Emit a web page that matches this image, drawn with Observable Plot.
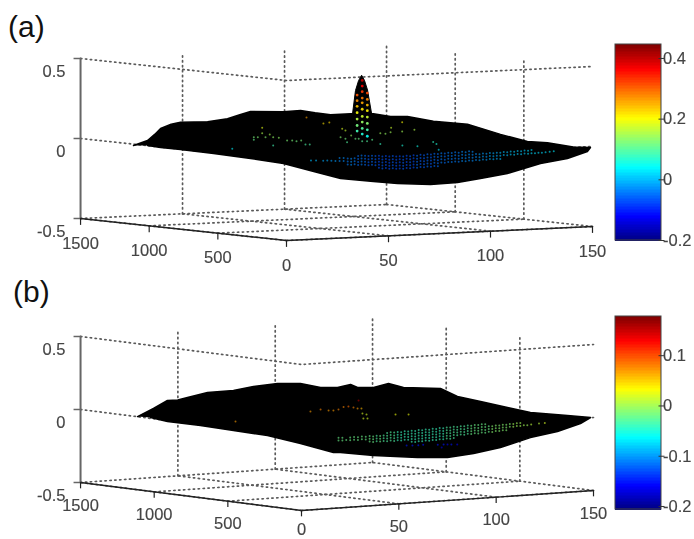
<!DOCTYPE html>
<html><head><meta charset="utf-8">
<style>
html,body{margin:0;padding:0;background:#fff;width:694px;height:539px;overflow:hidden}
#root{position:relative;width:694px;height:539px}
#root svg{display:block;filter:blur(.45px);background:transparent}
.tag{position:absolute;font-family:"Liberation Sans",Arial,sans-serif;font-size:30px;line-height:34px;color:#111}
</style>
<script src="https://cdn.jsdelivr.net/npm/d3@7"></script>
<script src="https://cdn.jsdelivr.net/npm/@observablehq/plot@0.6"></script>
</head><body><div id="root"></div>
<script>
// axis values
const xTicks = [0, 50, 100, 150];
const yTicks = [0, 500, 1000, 1500];
const zTicks = [-0.5, 0, 0.5];
const barTicksA = [-0.2, 0, 0.2, 0.4];
const barTicksB = [-0.2, -0.1, 0, 0.1];
const jetStops = [0, 0.125, 0.375, 0.625, 0.875, 1];
const jetColors = ["#00007f", "#0000ff", "#00ffff", "#ffff00", "#ff0000", "#7f0000"];

// surface silhouettes [x, y, z]
const surfaceA = [[0,1114,-.008],[0,1012,.032],[0,960,.075],[0,917,.116],[0,840,.15],[0,772,.168],[0,575,.19],[0,430,.222],[0,340,.255],[0,262,.282],[0,22,.303],[6.9,0,.308],[14,0,.29],[21.6,0,.274],[31.4,0,.274],[42.6,0,.268],[51,0,.245],[59.3,0,.24],[72,0,.203],[88.7,0,.175],[97,0,.138],[104.9,0,.102],[118.1,0,.05],[127.9,0,.037],[140.6,0,.002],[149,0,-.006],[147.5,0,-.03],[137.7,0,-.068],[124.5,0,-.091],[108.3,0,-.144],[95.1,0,-.168],[83.8,0,-.186],[70.6,0,-.191],[54.4,0,-.176],[42.6,0,-.156],[26.5,0,-.128],[15.2,0,-.084],[0,22,-.021],[0,262,-.011],[0,531,-.005],[0,772,-.002],[0,917,-.003],[0,1012,.001]];
const peakA = [[70,600,.15],[72.7,600,.19],[74.2,600,.339],[75.7,600,.40],[77.2,600,.433],[78.6,600,.40],[80.1,600,.339],[82.1,600,.19],[85,600,.15]];
const surfaceB = [[0,1113,.001],[0,1005,.07],[0,910,.137],[0,840,.15],[0,774,.175],[0,638,.227],[0,462,.263],[0,326,.308],[0,163,.349],[0,7,.369],[9.8,0,.334],[18.5,0,.325],[25.2,0,.34],[28.8,0,.316],[37,0,.309],[44.7,0,.329],[52.4,0,.295],[71.4,0,.271],[80.1,0,.208],[92,0,.162],[105.8,0,.109],[117.6,0,.064],[136.6,0,.026],[148.5,0,.001],[143.3,0,-.035],[131.5,0,-.079],[117.6,0,-.108],[102.2,0,-.162],[88.4,0,-.19],[75,0,-.205],[59.6,0,-.191],[37,0,-.157],[20,0,-.121],[16.4,0,-.118],[0,7,-.042],[0,231,-.016],[0,462,-.011],[0,686,-.005],[0,910,-.007],[0,1025,.006]];

// coloured mesh points on the surface [x, y, z]
const peakDotsA = [[77.5,600,.40],[77.5,600,.365],[77.5,600,.33],[77.5,600,.29],[77.5,600,.26],[77.5,600,.22],[77.5,600,.175],[77.5,600,.14],[77.5,600,.10],[77.5,600,.065],
[75,600,.31],[75,600,.275],[75,600,.24],[75,600,.20],[75,600,.16],[75,600,.12],[75,600,.085],
[80,600,.32],[80,600,.28],[80,600,.245],[80,600,.21],[80,600,.17],[80,600,.13],[80,600,.09],[80,600,.05]];
const scatterA = [[0,177,.188],[0,177,.154],[0,238,.124],[0,209,.126],[0,238,.108],[0,153,.132],[0,122,.151],[0,97,.137],[0,56,.137],[.3,0,.125],[2.8,0,.123],[4.9,0,.118],[7.2,0,.121],[9.3,0,.094],[11.4,0,.093],[0,97,.085],[0,395,.037],[18.1,0,.221],[21,0,.225],[9.8,0,.263],[27.3,0,.183],[28.9,0,.171],[26.5,0,.13],[28.9,0,.119],[29.7,0,.097],[31.7,0,.138],[33.8,0,.116],[35.4,0,.115],[37.1,0,.099],[39.5,0,.097],[42,0,.105],[46,0,.144],[48.5,0,.139],[51.3,0,.174],[51,0,.147],[56.7,0,.206],[56.7,0,.148],[56.8,0,.061],[46,0,.077],[62.7,0,.156],[64.2,0,.052],[71.9,0,.073],[73.5,0,.061],[74.6,0,.023]];
// [x, y, z, value]
const scatterB = [[4.6,0,.174,.07],[9.8,0,.183,.08],[13.9,0,.173,.07],[16.4,0,.17,.07],[19,0,.175,.08],[21.6,0,.189,.08],[24.1,0,.19,.09],[26.7,0,.181,.08],[28.8,0,.173,.07],[30.8,0,.171,.06],[29.3,0,.227,.16],[31.3,0,.136,.02],[33.4,0,.127,.02],[31.8,0,.101,.02],[33.9,0,.099,.02],[48.3,0,.114,.03],[55,0,.108,.03],[0,448,.052,.07],
[54,0,-.104,-.15],[57,0,-.106,-.15],[60,0,-.108,-.15],[62.5,0,-.107,-.15],[70,0,-.113,-.15],[73,0,-.115,-.15],[75,0,-.116,-.16],[77,0,-.118,-.15],[80,0,-.121,-.16],[72,0,-.134,-.17]];

// mesh-point columns along the valley [x, z, value, rows]
const bandA = [[12,-.007,.0,1],[14.5,-.009,.0,1],[18,-.012,-.01,1],[20,-.012,-.01,1],[22,-.014,-.02,1],[24,-.017,-.02,1],[26,-.018,-.03,2],[28,-.02,-.03,2],[30,-.024,-.04,3],[31.7,-.026,-.03,3],[33.4,-.024,-.04,3],[35.1,-.03,-.05,4],[36.8,-.028,-.04,4],[38.5,-.03,-.05,4],[40.2,-.034,-.06,4],[41.9,-.032,-.05,4],[43.6,-.036,-.06,4],[45.3,-.034,-.07,5],[47,-.04,-.06,5],[48.7,-.038,-.07,5],[50.4,-.043,-.07,5],[52.1,-.041,-.06,5],[53.8,-.045,-.07,5],[55.5,-.044,-.07,5],[57.2,-.047,-.06,5],[58.9,-.043,-.07,5],[60.6,-.046,-.06,5],[62.3,-.042,-.07,5],[64,-.045,-.05,5],[65.7,-.041,-.06,5],[67.4,-.044,-.06,5],[69.1,-.04,-.05,5],[70.8,-.042,-.06,5],[72.5,-.038,-.05,5],[74.2,-.041,-.05,5],[75.9,-.037,-.04,4],[77.6,-.04,-.05,4],[79.3,-.036,-.04,4],[81,-.038,-.04,4],[82.7,-.035,-.04,4],[84.4,-.038,-.04,4],[86.1,-.034,-.03,4],[87.8,-.037,-.03,4],[89.5,-.033,-.03,4],[91.2,-.036,-.03,4],[92.9,-.032,-.03,3],[94.6,-.035,-.02,3],[96.3,-.031,-.02,3],[98,-.034,-.02,3],[99.7,-.03,-.01,3],[101.4,-.033,-.01,3],[103.1,-.03,-.01,3],[104.8,-.032,0,3],[106.5,-.028,0,2],[108.2,-.03,0,2],[109.9,-.027,.01,2],[111.6,-.029,.01,2],[113.3,-.026,.01,2],[115,-.028,.01,2],[116.7,-.025,.01,2],[118.4,-.027,.02,2],[120.1,-.024,.02,2],[121.8,-.026,.02,1],[123.5,-.023,.02,1],[125.2,-.025,.02,1],[127,-.022,.02,1],[129,-.02,.03,1],[131,-.018,.03,1]];
const bandB = [[19,-.038,-.02,2],[21,-.04,-.02,2],[23,-.038,-.02,1],[25,-.042,-.02,2],[27,-.04,-.02,2],[29,-.043,-.02,2],[31,-.04,-.02,2],[33,-.044,-.02,2],[35,-.041,-.02,3],[36.8,-.045,-.02,3],[38.6,-.042,-.03,3],[40.4,-.046,-.02,3],[42.2,-.043,-.03,3],[44,-.047,-.03,4],[45.8,-.044,-.03,4],[47.6,-.048,-.03,4],[49.4,-.045,-.04,4],[51.2,-.048,-.04,4],[53,-.044,-.04,4],[54.8,-.047,-.04,4],[56.6,-.043,-.04,5],[58.4,-.046,-.04,5],[60.2,-.042,-.04,5],[62,-.045,-.04,5],[63.8,-.041,-.04,5],[65.6,-.044,-.04,5],[67.4,-.04,-.04,5],[69.2,-.043,-.04,5],[71,-.038,-.04,5],[72.8,-.041,-.04,5],[74.6,-.037,-.03,5],[76.4,-.04,-.03,5],[78.2,-.036,-.03,5],[80,-.039,-.03,4],[81.8,-.035,-.03,4],[83.6,-.038,-.03,4],[85.4,-.034,-.03,4],[87.2,-.037,-.02,4],[89,-.033,-.02,4],[90.8,-.036,-.02,4],[92.6,-.032,-.02,4],[94.4,-.034,-.02,4],[96.2,-.03,-.02,3],[98,-.032,-.01,3],[99.8,-.028,-.01,3],[101.6,-.03,-.01,3],[103.4,-.026,-.01,3],[105.2,-.028,-.01,3],[107,-.024,-.01,2],[108.8,-.026,0,2],[110.6,-.022,0,2],[112.4,-.023,0,2],[114.2,-.02,0,1],[116,-.022,0,1],[118,-.018,.01,1],[122,-.016,.01,1],[125,-.015,.02,1]];
const bandRows = [0, .019, -.019, .038, -.038];

const root = document.getElementById("root");

function panel({top, height, origin, xv, yv, zv, domain, surface, peak, peakDots, scatter, band, barTicks, barTop, barBottom, floorDy}) {
  const X = d => origin[0] + xv[0] * d[0] - yv[0] * d[1];
  const Y = d => origin[1] - top - xv[1] * d[0] - yv[1] * d[1] - zv * (d[2] + 0.5);
  const [d0, d1] = domain;
  const barY = d3.scaleLinear().domain(domain).range([barBottom - top, barTop - top]);
  const barSteps = d3.range(0, 128).map(i => d0 + (d1 - d0) * i / 128);
  const dv = (d1 - d0) / 128;

  const xMax = 150, yMax = 1500;
  const grid = [];
  for (const x of xTicks) grid.push([[x, 0, -.5], [x, yMax, -.5]]);
  for (const y of yTicks) grid.push([[0, y, -.5], [xMax, y, -.5]]);
  for (const x of xTicks.slice(1)) grid.push([[x, yMax, -.5], [x, yMax, .5]]);
  for (const y of yTicks.slice(1, 3)) grid.push([[xMax, y, -.5], [xMax, y, .5]]);
  for (const z of zTicks.slice(1)) grid.push([[0, yMax, z], [0, 0, z], [xMax, 0, z]]);
  const gridPts = grid.flatMap((seg, i) => seg.map(p => ({p, i})));

  const bandDots = band.flatMap(([x, z, v, n]) => bandRows.slice(0, n).map(r => [x, 0, z + r, v]));
  const dots = [...scatter, ...bandDots];

  const floorTicks = [
    ...yTicks.map(y => ({p: [0, y, -.5], t: String(y)})),
    ...xTicks.slice(1).map(x => ({p: [x, 0, -.5], t: String(x)}))
  ];
  const txt = {fontFamily: '"Liberation Sans",Arial,sans-serif', fontSize: 16.5, fill: "#444", stroke: "#444", strokeWidth: .15};
  const zX = X([0, yMax, 0]);

  const svg = Plot.plot({
    width: 694, height, margin: 0,
    x: {domain: [0, 694], range: [0, 694], axis: null},
    y: {domain: [0, height], range: [0, height], axis: null},
    color: {type: "linear", domain: jetStops.map(s => d0 + (d1 - d0) * s), range: jetColors, interpolate: "rgb", clamp: true},
    style: {background: "transparent"},
    marks: [
      Plot.line(gridPts, {x: d => X(d.p), y: d => Y(d.p), z: "i", stroke: "#5a5a5a", strokeWidth: 1.7, strokeDasharray: "1.3,3.6"}),
      Plot.line(surface, {x: X, y: Y, fill: "#000", stroke: "#000", strokeWidth: 1.5}),
      peak ? Plot.line(peak, {x: X, y: Y, fill: "#000", stroke: "#000", strokeWidth: 1}) : null,
      Plot.dot(dots, {x: X, y: Y, r: 1, fill: d => d[3] ?? d[2], fillOpacity: .6, stroke: "none"}),
      peakDots ? Plot.dot(peakDots, {x: X, y: Y, r: 1.4, fill: d => d[2], fillOpacity: .9, stroke: "none"}) : null,
      // z axis
      Plot.line([[0, yMax, -.5], [0, yMax, .5]], {x: X, y: Y, stroke: "#666", strokeWidth: 2}),
      Plot.link(zTicks, {x1: zX - 7, x2: zX, y1: z => Y([0, yMax, z]), y2: z => Y([0, yMax, z]), stroke: "#666", strokeWidth: 1.5}),
      Plot.text(zTicks, {x: zX, y: z => Y([0, yMax, z]), dx: -15, dy: 13, text: z => String(z), textAnchor: "end", ...txt}),
      // floor axes
      Plot.line([[0, yMax, -.5], [0, 0, -.5], [xMax, 0, -.5]], {x: X, y: Y, stroke: "#222", strokeWidth: 1.4}),
      Plot.link(floorTicks, {x1: d => X(d.p), y1: d => Y(d.p), x2: d => X(d.p), y2: d => Y([d.p[0], d.p[1], -.54]), stroke: "#222", strokeWidth: 1.2}),
      Plot.text(floorTicks, {x: d => X(d.p), y: d => Math.min(Y(d.p) + floorDy, height - 10), text: "t", textAnchor: "middle", ...txt}),
      // colour bar
      Plot.rect(barSteps, {x1: 615, x2: 661, y1: v => barY(v) + .8, y2: v => barY(v + dv), fill: v => v + dv / 2, shapeRendering: "crispEdges"}),
      Plot.rect([0], {x1: 615, x2: 661, y1: barY(d0), y2: barY(d1), fill: "none", stroke: "#444", strokeWidth: 1}),
      Plot.link(barTicks, {x1: 658, x2: 664, y1: v => barY(v), y2: v => barY(v), stroke: "#333", strokeWidth: 1}),
      Plot.text(barTicks, {x: 662.5, y: v => barY(v), text: v => String(v), textAnchor: "start", ...txt})
    ]
  });
  svg.style.position = "absolute";
  svg.style.left = "0";
  svg.style.top = top + "px";
  root.appendChild(svg);
}

panel({top: 0, height: 285, origin: [286, 240], xv: [2.04, .0933], yv: [.1373, .01467], zv: 160,
  domain: [-.2, .446], surface: surfaceA, peak: peakA, peakDots: peakDotsA, scatter: scatterA, band: bandA,
  barTicks: barTicksA, barTop: 44, barBottom: 240, floorDy: 25});
panel({top: 270, height: 269, origin: [301, 510], xv: [1.9467, .1333], yv: [.1473, .01867], zv: 146,
  domain: [-.206, .178], surface: surfaceB, peak: null, peakDots: null, scatter: scatterB, band: bandB,
  barTicks: barTicksB, barTop: 316, barBottom: 509, floorDy: 23});

for (const [t, l, tp] of [["(a)", 8, 10], ["(b)", 13, 275]]) {
  const d = document.createElement("div");
  d.className = "tag"; d.textContent = t;
  d.style.left = l + "px"; d.style.top = tp + "px";
  root.appendChild(d);
}
</script></body></html>
